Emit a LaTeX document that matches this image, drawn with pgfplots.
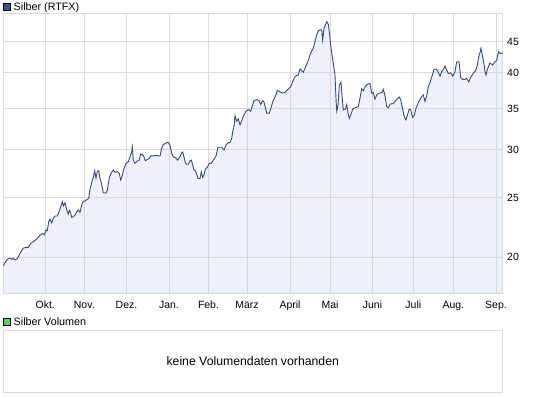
\documentclass[border=0pt]{standalone}
\usepackage{fontspec}
\setmainfont{Liberation Sans}
\usepackage{pgfplots}
\usepackage{pgfplotstable}
\pgfplotsset{compat=1.18}
\definecolor{linec}{HTML}{3A4B7A}
\definecolor{fillc}{HTML}{C6D0EE}
\definecolor{gridc}{HTML}{DCDCDC}
\definecolor{legblue}{HTML}{3D5183}
\definecolor{leggreen}{HTML}{66CC66}
\pgfplotstableread{
x y
3.3 19.36
5 19.60
7.3 19.85
10 19.95
11.7 19.85
13.3 19.93
15 19.80
17.3 19.90
20 20.30
23.3 20.70
26 20.76
28.3 20.76
30.7 21.07
33.3 21.20
36 21.38
38.3 21.55
40 21.74
42.7 21.88
44.3 21.76
46 22.16
47.3 22.10
48.7 22.87
50 23.08
51.7 22.75
53.3 23.15
55 23.36
57.3 23.36
59 23.74
60.7 24.18
62.3 24.65
63.3 24.25
65 24.55
66.7 23.89
68.3 23.53
69.3 23.89
70.7 23.65
71.7 23.24
73.3 23.30
75 23.44
76.7 23.74
78.3 23.89
80 23.68
81.7 24.34
83.3 24.69
85.3 24.72
86.7 24.84
88.7 24.94
90 25.85
91.7 26.50
93.3 27.01
94.7 27.70
96 26.94
97.3 27.59
98.7 27.70
100 26.94
101.7 26.33
103.3 25.50
106 25.45
107.3 25.75
109.3 26.94
111 27.42
113.3 27.77
115 27.53
117.3 27.59
119.3 27.42
120.7 26.74
121.7 27.00
124 27.95
126 28.47
128.3 28.64
130 29.18
131.7 29.74
132.3 30.25
133.3 28.82
135 28.47
137.3 28.75
139 28.75
140.7 29.49
142.7 29.38
144 29.18
145.3 28.75
147.3 28.90
149.3 29.00
151 29.30
153.3 29.27
156 29.35
158.3 29.27
160 29.27
161.7 30.13
163.3 30.60
165 30.62
166.7 30.78
168.3 30.78
170 30.50
171.7 29.57
173.3 29.18
175.7 29.07
177.7 28.82
180 29.18
181.7 29.63
182.7 29.70
184 29.18
185.3 28.50
186.7 28.37
188.3 28.37
190 28.75
191.3 28.82
192.7 28.29
194 27.77
195.3 27.70
196.7 27.35
198 26.90
200 26.90
201.3 27.59
202.7 27.00
204 27.25
205.3 27.84
207.3 28.05
209.3 28.47
211.3 28.47
213.3 28.82
216 29.27
218 30.25
220 30.25
221.7 30.25
224 29.93
226 30.50
228.3 30.78
230 30.78
231.7 31.28
232.7 32.07
234 32.68
235 34.07
236.7 33.35
238.3 33.65
240 32.90
241.7 33.43
243.3 33.98
246 34.63
248.3 34.85
250.7 34.63
252.7 35.51
254 36.04
256.7 36.17
259 36.04
260.7 35.51
262.7 36.04
264 35.86
265.3 35.16
266.7 34.38
269.3 34.38
271 35.08
272.7 35.86
274.7 36.48
276 36.87
277.3 37.43
279.3 37.33
281.7 37.10
284 37.10
286 37.33
288.3 37.65
290.7 37.97
292.7 38.70
294.3 39.28
296 39.57
298.3 39.68
300 40.60
301.7 40.30
303.3 40.10
305 40.70
306.7 41.33
308.7 42.10
310 42.78
311.7 43.43
313.3 43.87
315 45.00
316.7 46.15
318.3 46.84
320 47.00
321.7 47.00
322.7 45.26
324 47.30
325.3 47.87
326.7 48.48
328.3 48.00
329.3 46.70
330.7 44.40
332 42.78
333.3 41.47
335 39.68
336 36.30
336.7 34.65
338 35.40
339.3 38.20
341 38.60
342 36.80
343.3 34.80
345.3 34.90
346.7 35.50
347.7 34.63
349.3 33.70
351 34.23
352.7 34.92
355 35.10
358.3 35.23
360 36.40
361.7 37.68
363.3 37.40
365 37.97
367.3 38.32
370 38.46
371.7 37.05
373.3 37.13
375 36.23
376.7 36.82
378.7 37.05
380.7 37.13
382 37.13
383.3 37.60
385 36.68
386.7 35.26
388.3 35.05
390 35.58
392.7 35.62
395 35.93
397.3 36.26
399.3 36.53
400.7 36.17
402.7 34.85
404 34.05
406 33.53
407.3 34.05
409 34.85
410.7 34.85
411.7 34.27
412.7 33.83
414.3 34.14
416 35.02
418.3 35.76
420 36.22
421.7 36.58
423.3 36.82
425 35.93
426.7 36.68
428.3 37.97
430 38.55
431 39.05
432.7 39.83
434 40.52
436 40.52
437.7 40.30
440 39.50
441.7 40.17
443.3 40.52
445 41.04
446.7 40.43
448.3 39.90
450.7 40.00
452.7 39.50
455 40.17
456.7 41.70
459 41.70
460.7 39.33
462.7 39.03
464.7 39.03
466.7 39.18
468.7 38.68
470.7 39.33
473.3 39.93
476 40.43
477.3 41.20
478.7 42.50
480 43.15
481 43.87
482.3 42.78
484 41.35
485 40.17
486 39.68
487.3 40.52
490 41.50
492.7 41.20
495 41.70
496.7 41.88
497.7 42.78
498.7 43.30
500 43.05
502.7 43.05
}\silver

\begin{document}
\begin{tikzpicture}
\useasboundingbox (0bp,0bp) rectangle (545bp,398bp);
\begin{axis}[
  at={(3bp,104.2bp)}, anchor=south west,
  scale only axis, width=499.5bp, height=280bp,
  xmin=3, xmax=502.5,
  ymode=log, ymin=17.44, ymax=49.94,
  axis line style={gridc, line width=1bp},
  grid=major, major grid style={gridc, line width=1bp},
  minor y tick num=0,
  xtick={45.3,84.3,126.5,169,208.5,247,290,330,372.5,413.3,453.3,496},
  xticklabels={Okt.,Nov.,Dez.,Jan.,Feb.,März,April,Mai,Juni,Juli,Aug.,Sep.},
  ytick={20,25,30,35,40,45},
  yticklabels={20,25,30,35,40,45},
  yticklabel pos=right,
  major tick length=0pt, minor tick length=0pt,
  xticklabel style={font=\fontsize{10.5}{12}\selectfont, inner sep=0pt, anchor=base, yshift=-14.6bp},
  yticklabel style={font=\fontsize{10.5}{12}\selectfont, inner sep=0pt, anchor=west, xshift=4.5bp},
]
\addplot[draw=none, fill=fillc, fill opacity=0.3] table[x=x,y=y] {\silver} \closedcycle;
\addplot[color=linec, line width=0.9bp, mark=none] table[x=x,y=y] {\silver};
\end{axis}
\begin{axis}[
  at={(3bp,5.3bp)}, anchor=south west,
  scale only axis, width=499.5bp, height=62.3bp,
  xmin=0, xmax=1, ymin=0, ymax=1,
  xtick=\empty, ytick=\empty,
  axis line style={gridc, line width=1bp},
]
\node[font=\fontsize{12.3}{14}\selectfont] at (axis cs:0.5,0.5) {keine Volumendaten vorhanden};
\end{axis}
\node[draw=black, fill=legblue, minimum size=7bp, inner sep=0pt, line width=0.6bp] at (6.5bp,391.2bp) {};
\node[anchor=base west, inner sep=0pt, font=\fontsize{10.8}{12}\selectfont] at (13.5bp,387bp) {Silber (RTFX)};
\node[draw=black, fill=leggreen, minimum size=7bp, inner sep=0pt, line width=0.6bp] at (6.5bp,75.8bp) {};
\node[anchor=base west, inner sep=0pt, font=\fontsize{10.8}{12}\selectfont] at (13.5bp,72bp) {Silber Volumen};
\end{tikzpicture}
\end{document}
